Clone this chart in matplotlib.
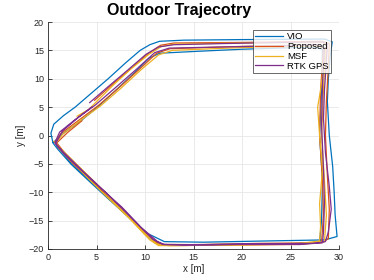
import matplotlib
matplotlib.use("Agg")
import matplotlib.pyplot as plt

plt.rcParams['font.family'] = ['Liberation Sans', 'DejaVu Sans']

labels = ["VIO", "Proposed", "MSF", "RTK GPS"]
colors = ["#0072BD", "#D95319", "#EDB120", "#7E2F8E"]

vio_x = [0.5, 0.3, 0.6, 1.6, 2.8, 4.5, 6.2, 8.0, 9.5, 10.5, 11.5, 14, 20, 28.5, 29.3, 29.1, 28.9, 28.8, 29.0, 29.35, 29.5, 29.6, 29.8, 28.5, 22, 16, 12, 10.3, 9.4, 8.2, 6.5, 4.4, 2.4, 1.0, 0.5,
         1.6, 3.4, 5.3, 7.2, 9.0, 10.4, 11.5, 15, 20, 27.5, 28.3, 28.2, 28.0, 28.3, 28.2, 28.0, 25, 18, 12, 11.0, 8.2, 5.1, 2.3, 0.9]
vio_y = [-1.2, 0.4, 2.0, 3.5, 5.0, 7.5, 10.0, 12.8, 15.0, 16.0, 16.6, 16.8, 16.9, 17.0, 16.5, 14, 10, 6, 0, -5.5, -10, -14, -17.8, -18.4, -18.6, -18.8, -18.7, -17.3, -16, -14.2, -11.6, -8.3, -5.1, -2.4, -1.3,
         0.4, 2.6, 5.3, 8.3, 11.2, 13.6, 14.5, 14.8, 15.2, 15.6, 15.2, 8, 0, -8, -15, -18.8, -19.1, -19.2, -19.3, -18.9, -14.2, -9.2, -4.6, -1.8]

prop_x = [4.8, 6.5, 8.4, 10.3, 11.6, 13, 20, 28.3, 29.0, 28.9, 28.7, 28.6, 28.8, 29.0, 28.9, 28.2, 22, 16, 11.8, 11, 9, 6.8, 4.6, 2.6, 1.1, 0.7,
          1.3, 3.1, 5.2, 7.3, 9.5, 11.2, 12.6, 20, 27.8, 28.4, 28.1, 28.0, 28.3, 28.4, 28.2, 26, 20, 13, 11.5, 10.5, 8, 5.5, 3.3, 1.7, 0.9, 2.0, 3.5]
prop_y = [6.2, 8.8, 11.6, 14.4, 15.9, 16.3, 16.4, 16.6, 16.2, 12, 6, 0, -7, -13, -18.2, -18.9, -19.0, -19.2, -19.3, -18.6, -15.5, -11.7, -8.2, -5, -2.2, -1.2,
          0.3, 2.6, 5.3, 8.4, 11.8, 14.5, 15.3, 15.7, 16.0, 15.4, 8, 0, -8, -14, -18.8, -19.2, -19.3, -19.2, -19.2, -18, -13.8, -9.4, -5.7, -3, -1.3, 0.5, 2.6]

msf_x = [3.0, 4.2, 5.2, 6.8, 8.6, 10.4, 11.7, 13, 20, 28.3, 28.8, 28.4, 28.1, 27.8, 28.0, 28.3, 28.0, 28.1, 28.0, 26, 20, 14, 11.4, 10.5, 8.5, 6.3, 4.4, 2.8, 1.4, 0.8,
         1.5, 3.3, 5.4, 7.5, 9.6, 11.4, 12.8, 20, 28, 28.6, 28.4, 28.2, 28.5, 28.7, 28.5, 26, 19, 12.5, 11.2, 9.6, 7.2, 5.0, 3.0, 1.3, 0.6]
msf_y = [3.4, 4.6, 6.3, 9.0, 11.8, 14.3, 15.7, 16.1, 16.3, 16.4, 15.8, 12, 8, 5, 0, -6, -12, -16, -18.6, -19.0, -19.2, -19.4, -19.4, -18.4, -14.8, -11.2, -8, -5.2, -2.8, -1.3,
         0.2, 2.6, 5.2, 8.3, 11.6, 14.2, 15.0, 15.5, 15.8, 15.2, 8, 0, -8, -14, -18.7, -19.1, -19.3, -19.4, -19.1, -16.6, -12.4, -8.5, -5.2, -2.3, -1.0]

rtk_x = [4.3, 6.2, 8.2, 10.1, 11.4, 13, 18, 24, 28.2, 28.8, 28.7, 28.5, 28.4, 28.6, 29.0, 29.2, 28.9, 28.6, 27.5, 22, 17, 12, 11.3, 9.6, 7.6, 5.2, 3.1, 1.6, 0.7,
         1.2, 2.8, 4.9, 7, 9.2, 11, 12.5, 18, 24, 28, 28.5, 28.3, 28.2, 28.4, 28.5, 28.4, 28.3, 26, 20, 14, 11.8, 10.8, 8.3, 5.8, 3.4, 1.5, 0.8, 1.5, 3.2, 4.5]
rtk_y = [5.8, 8.6, 11.5, 14.3, 15.6, 16.0, 16.2, 16.4, 16.5, 16.2, 13, 8, 3, -3, -9, -13, -17, -18.7, -19.0, -19.1, -19.3, -19.2, -18.7, -16.2, -12.6, -8.9, -5.6, -3.1, -1.3,
         0.6, 2.8, 5.4, 8.5, 11.8, 14.6, 15.4, 15.6, 15.8, 16.0, 15.5, 9, 2, -6, -12, -17, -18.9, -19.2, -19.1, -19.3, -19.2, -18.3, -14, -9.8, -6, -2.8, -1.4, 0.8, 3.3, 5.0]

xticks = [0, 5, 10, 15, 20, 25, 30]
yticks = [-20, -15, -10, -5, 0, 5, 10, 15, 20]

fig = plt.figure(figsize=(3.74, 2.80), dpi=100)
ax = fig.add_axes([48/374, 1-249/280, (339-48)/374, (249-22)/280])

series = [(vio_x, vio_y), (prop_x, prop_y), (msf_x, msf_y), (rtk_x, rtk_y)]
for (sx, sy), lab, col in zip(series, labels, colors):
    ax.plot(sx, sy, color=col, lw=0.9, label=lab)

ax.set_xlim(0, 30)
ax.set_ylim(-20, 20)
ax.set_xticks(xticks)
ax.set_yticks(yticks)
ax.grid(True, color='#e6e6e6', lw=0.6)
ax.set_axisbelow(True)
for s in ['top', 'right']:
    ax.spines[s].set_visible(False)
for s in ['left', 'bottom']:
    ax.spines[s].set_color('#262626')
    ax.spines[s].set_linewidth(0.6)
ax.tick_params(direction='in', length=3, width=0.6, colors='#262626', labelsize=6.5, pad=3)
ax.set_xlabel('x [m]', fontsize=7, color='#262626', labelpad=1)
ax.set_ylabel('y [m]', fontsize=7, color='#262626', labelpad=2)
fig.text(179/374, 1-15/280, 'Outdoor Trajecotry', fontsize=11.5, fontweight='bold',
         ha='center', va='baseline')

leg = ax.legend(loc='upper right', bbox_to_anchor=(331/374, 1-30/280), bbox_transform=fig.transFigure,
                fontsize=6.8, frameon=True, fancybox=False, handlelength=3.0, handletextpad=0.4,
                borderpad=0.25, labelspacing=0.08, borderaxespad=0)
leg.get_frame().set_edgecolor('#262626')
leg.get_frame().set_linewidth(0.6)

fig.savefig('out.png', dpi=100)
